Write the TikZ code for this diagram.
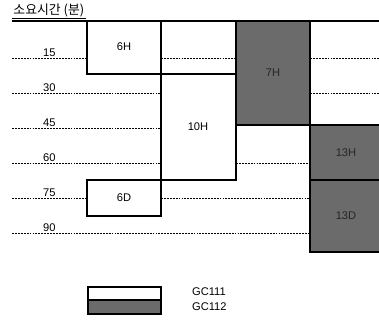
\documentclass[tikz,border=0pt]{standalone}
\usepackage{fontspec}
\setmainfont{Liberation Sans}
\newfontfamily\krfont{Noto Sans CJK KR}
\tikzset{
	slot/.style = {line width=1.5pt, fill=white},
	grayslot/.style = {line width=1.5pt, fill=black!58},
	guide/.style = {line width=0.5pt, dash pattern=on 1.6pt off 0.9pt},
	tick/.style = {anchor=south east, inner sep=1pt, font=\fontsize{9.5}{10}\selectfont},
	job/.style = {font=\fontsize{9.5}{10}\selectfont},
	grayjob/.style = {font=\fontsize{9.5}{10}\selectfont, text=black!85}
}
\begin{document}
\begin{tikzpicture} [x = 0.03cm, y = -0.03cm]
	\useasboundingbox (0,0) rectangle (379,324);
	\clip (0,0) rectangle (379,324);
	% time axis
	\node [anchor=south west, inner sep=1pt, font=\krfont\fontsize{11}{12}\selectfont] (head) at (12,18.5) {소요시간 (분)};
	\draw [line width=0.6pt] (12,18) -- (head.south east |- 0,18);
	\draw [line width=1.5pt] (12,21) -- (379,21);
	\foreach \y/\t in {58/15, 93/30, 128/45, 163/60, 198/75, 233/90}
		\node [tick] (t\t) at (57,\y) {\t};
	\draw [guide] (12,58) -- (87,58) (161,58) -- (236,58) (310,58) -- (379,58);
	\draw [guide] (12,93) -- (161,93) (310,93) -- (379,93);
	\draw [guide] (12,128) -- (161,128);
	\draw [guide] (12,163) -- (161,163) (236,163) -- (310,163);
	\draw [guide] (12,198) -- (87,198) (161,198) -- (310,198);
	\draw [guide] (12,233) -- (310,233);
	% GC111
	\draw [slot] (87,21) rectangle (161,74);
	\node [job] (n6H) at (124,47) {6H};
	\draw [line width=1.5pt] (161,21) rectangle (236,74);
	\draw [guide] (161,58) -- (236,58);
	\draw [slot] (161,74) rectangle (236,180);
	\node [job] (n10H) at (198,127) {10H};
	\draw [slot] (87,180) rectangle (161,216);
	\node [job] (n6D) at (124,198) {6D};
	% GC112
	\draw [grayslot] (236,21) rectangle (310,125);
	\node [grayjob] (n7H) at (273,73) {7H};
	\draw [grayslot] (310,125) rectangle (382,180);
	\node [grayjob] (n13H) at (346,153) {13H};
	\draw [grayslot] (310,180) rectangle (382,252);
	\node [grayjob] (n13D) at (346,216) {13D};
	% legend
	\draw [slot] (88,287) rectangle (161,300);
	\draw [grayslot] (88,300) rectangle (161,314);
	\node [job, anchor=west] (k111) at (188,292) {GC111};
	\node [job, anchor=west] (k112) at (188,307) {GC112};
\end{tikzpicture}
\end{document}
